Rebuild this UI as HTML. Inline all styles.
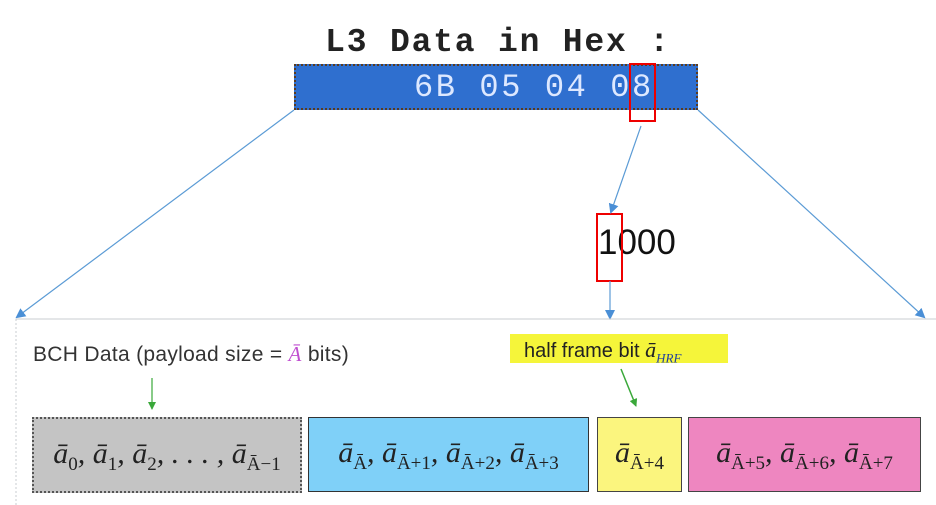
<!DOCTYPE html>
<html><head><meta charset="utf-8"><style>
body{margin:0;width:936px;height:505px;background:#fff;position:relative;overflow:hidden;font-family:"Liberation Sans",sans-serif}
.a{position:absolute}
.m{font-family:"Liberation Serif",serif;font-style:italic;font-size:30px;color:#222;white-space:nowrap;display:flex;align-items:center;justify-content:center}
.m span{display:inline-block}
.m sub{font-size:19px;font-style:normal;vertical-align:-7px;line-height:1}
</style></head><body>
<div class="a" style="left:290px;top:24px;width:416px;text-align:center;font-family:'Liberation Mono',monospace;font-weight:bold;font-size:33px;color:#222;letter-spacing:1.8px">L3 Data in Hex :</div>
<div class="a" style="left:294px;top:64px;width:400px;height:42px;background:#2f6fcf;border:2px dotted #5a3b20"></div>
<div class="a" style="left:414px;top:69px;font-family:'Liberation Mono',monospace;font-size:32px;color:#dde8ff;letter-spacing:2.6px">6B 05 04 08</div>
<div class="a" style="left:629px;top:63px;width:23px;height:55px;border:2px solid #e00"></div>
<div class="a" style="left:598px;top:223px;font-size:35px;color:#111">1000</div>
<div class="a" style="left:596px;top:213px;width:23px;height:65px;border:2px solid #e00"></div>
<svg class="a" style="left:0;top:0" width="936" height="505">
<defs><marker id="b" markerWidth="10" markerHeight="10" refX="8" refY="5" orient="auto" markerUnits="userSpaceOnUse"><path d="M0,0L10,5L0,10z" fill="#4a8fd6"/></marker>
<marker id="g" markerWidth="8" markerHeight="8" refX="7" refY="4" orient="auto" markerUnits="userSpaceOnUse"><path d="M0,0L8,4L0,8z" fill="#3aa83a"/></marker></defs>
<line x1="294" y1="110" x2="17" y2="317" stroke="#5b9bd5" stroke-width="1.2" marker-end="url(#b)"/>
<line x1="698" y1="110" x2="924" y2="317" stroke="#5b9bd5" stroke-width="1.2" marker-end="url(#b)"/>
<line x1="641" y1="126" x2="611" y2="212" stroke="#5b9bd5" stroke-width="1.2" marker-end="url(#b)"/>
<line x1="610" y1="281" x2="610" y2="318" stroke="#5b9bd5" stroke-width="1.2" marker-end="url(#b)"/>
<line x1="16" y1="319" x2="936" y2="319" stroke="#c8ccd0" stroke-width="1"/>
<line x1="16" y1="319" x2="16" y2="505" stroke="#c8ccd0" stroke-width="1" stroke-dasharray="2,2"/>
<line x1="152" y1="378" x2="152" y2="409" stroke="#3aa83a" stroke-width="1.2" marker-end="url(#g)"/>
<line x1="621" y1="369" x2="636" y2="406" stroke="#3aa83a" stroke-width="1.5" marker-end="url(#g)"/>
</svg>
<div class="a" style="left:33px;top:342px;font-size:21px;color:#333;letter-spacing:0.3px">BCH Data (payload size = <span style="color:#c050d0;font-family:'Liberation Serif',serif;font-style:italic">Ā</span> bits)</div>
<div class="a" style="left:510px;top:334px;width:218px;height:29px;background:#f5f53a"></div>
<div class="a" style="left:524px;top:337px;font-size:20px;color:#222">half frame bit <span style="font-family:'Liberation Serif',serif;font-style:italic;font-size:22px">ā<sub style="font-size:13px;color:#2040a0">HRF</sub></span></div>
<div class="a m" style="left:32px;top:417px;width:266px;height:72px;background:#c4c4c4;border:2px dotted #555"><span>ā<sub>0</sub>, ā<sub>1</sub>, ā<sub>2</sub>, . . . , ā<sub>Ā−1</sub></span></div>
<div class="a m" style="left:308px;top:417px;width:279px;height:73px;background:#7fd0f8;border:1.5px solid #333"><span>ā<sub>Ā</sub>, ā<sub>Ā+1</sub>, ā<sub>Ā+2</sub>, ā<sub>Ā+3</sub></span></div>
<div class="a m" style="left:597px;top:417px;width:83px;height:73px;background:#fbf57e;border:1.5px solid #444"><span>ā<sub>Ā+4</sub></span></div>
<div class="a m" style="left:688px;top:417px;width:231px;height:73px;background:#ee86c0;border:1.5px solid #444"><span>ā<sub>Ā+5</sub>, ā<sub>Ā+6</sub>, ā<sub>Ā+7</sub></span></div>
</body></html>
